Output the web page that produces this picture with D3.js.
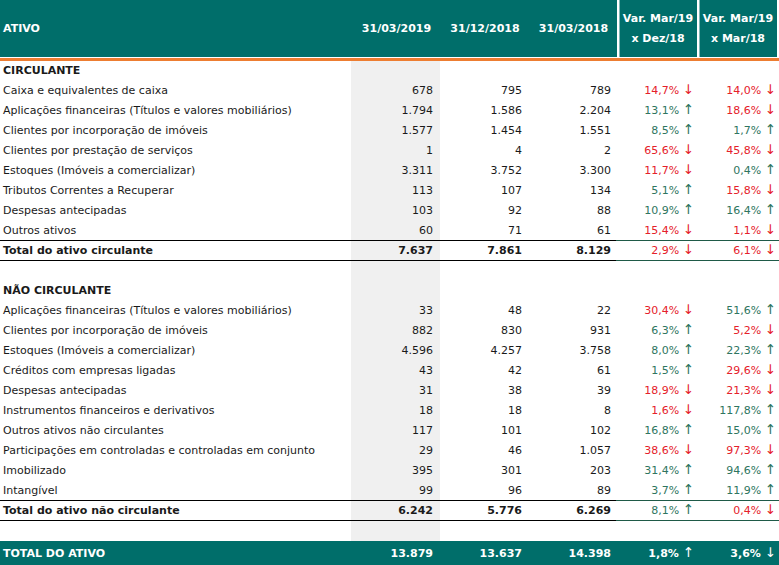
<!DOCTYPE html>
<html><head><meta charset="utf-8">
<script src="https://cdn.jsdelivr.net/npm/d3@7/dist/d3.min.js"></script>
<style>
html,body{margin:0;padding:0;background:#fff;}
svg{display:block;}
text{font-family:"DejaVu Sans",sans-serif;font-size:11px;}
</style></head>
<body>
<svg id="c" width="779" height="565"></svg>
<script>
const headers = ["ATIVO","31/03/2019","31/12/2018","31/03/2018",["Var. Mar/19","x Dez/18"],["Var. Mar/19","x Mar/18"]];
const rowLabels = ["CIRCULANTE","Caixa e equivalentes de caixa","Aplicações financeiras (Títulos e valores mobiliários)","Clientes por incorporação de imóveis","Clientes por prestação de serviços","Estoques (Imóveis a comercializar)","Tributos Correntes a Recuperar","Despesas antecipadas","Outros ativos","Total do ativo circulante","","NÃO CIRCULANTE","Aplicações financeiras (Títulos e valores mobiliários)","Clientes por incorporação de imóveis","Estoques (Imóveis a comercializar)","Créditos com empresas ligadas","Despesas antecipadas","Instrumentos financeiros e derivativos","Outros ativos não circulantes","Participações em controladas e controladas em conjunto","Imobilizado","Intangível","Total do ativo não circulante","","TOTAL DO ATIVO"];
const rowKinds = ["section","item","item","item","item","item","item","item","item","total","blank","section","item","item","item","item","item","item","item","item","item","item","total","blank","grand"];
const mar19 = [null,678,1794,1577,1,3311,113,103,60,7637,null,null,33,882,4596,43,31,18,117,29,395,99,6242,null,13879];
const dez18 = [null,795,1586,1454,4,3752,107,92,71,7861,null,null,48,830,4257,42,38,18,101,46,301,96,5776,null,13637];
const mar18 = [null,789,2204,1551,2,3300,134,88,61,8129,null,null,22,931,3758,61,39,8,102,1057,203,89,6269,null,14398];
const varDez = [null,-14.7,13.1,8.5,-65.6,-11.7,5.1,10.9,-15.4,-2.9,null,null,-30.4,6.3,8.0,1.5,-18.9,-1.6,16.8,-38.6,31.4,3.7,8.1,null,1.8];
const varMar = [null,-14.0,-18.6,1.7,-45.8,0.4,-15.8,16.4,-1.1,-6.1,null,null,51.6,-5.2,22.3,-29.6,-21.3,117.8,15.0,-97.3,94.6,11.9,-0.4,null,-3.6];

const TEAL="#006e6a", ORANGE="#ed7d31", GRAY="#f0f0f0", RED="#e5202a", GREEN="#2e7560", LINEG="#1f5a48", INK="#1a1a1a";
const loc = d3.formatLocale({decimal:",",thousands:".",grouping:[3],currency:["",""]});
const fInt = loc.format(",d"), fPct = loc.format(".1f");

const svg = d3.select("#c");
const W = 779;
const y = d3.scaleLinear().domain([0,23]).range([70,530]);
const colKeys = ["mar19","dez18","mar18","varDez","varMar"];
const colData = {mar19, dez18, mar18, varDez, varMar};
const xRight = d3.scaleOrdinal().domain(colKeys).range([433,522,611,694,776]);
const xHead = d3.scaleOrdinal().domain(colKeys).range([396.5,485,573.5,658,738]);

// header
svg.append("rect").attr("x",0).attr("y",0).attr("width",777).attr("height",57).attr("fill",TEAL);
[617,697].forEach(x=>svg.append("rect").attr("x",x).attr("y",0).attr("width",2.5).attr("height",57).attr("fill","#fff"));
svg.append("rect").attr("x",0).attr("y",58).attr("width",W).attr("height",3).attr("fill",ORANGE);
svg.append("text").attr("x",3).attr("y",28).attr("dy","0.35em").attr("fill","#fff").attr("font-weight","bold").attr("font-size","10.5px").text(headers[0]);
colKeys.forEach((k,i)=>{
  const h = headers[i+1];
  if (Array.isArray(h)) {
    h.forEach((line,j)=>svg.append("text").attr("x",xHead(k)).attr("y",18+j*20).attr("dy","0.35em").attr("text-anchor","middle").attr("fill","#fff").attr("font-weight","bold").attr("font-size","10.2px").text(line));
  } else {
    svg.append("text").attr("x",xHead(k)).attr("y",28).attr("dy","0.35em").attr("text-anchor","middle").attr("fill","#fff").attr("font-weight","bold").attr("font-size","10.5px").text(h);
  }
});

// gray column
const grandIdx = rowKinds.indexOf("grand");
const grandTop = y(grandIdx-1)+11;
svg.append("rect").attr("x",351).attr("y",61).attr("width",89).attr("height",grandTop-61).attr("fill",GRAY);

// grand band
svg.append("rect").attr("x",0).attr("y",grandTop).attr("width",W).attr("height",565-grandTop).attr("fill",TEAL);

// total lines
rowKinds.forEach((kind,i)=>{
  if (kind!=="total") return;
  [y(i)-10,y(i)+10].forEach(ly=>{
    svg.append("line").attr("x1",0).attr("x2",616).attr("y1",ly+0.5).attr("y2",ly+0.5).attr("stroke","#000").attr("stroke-width",1.2);
    svg.append("line").attr("x1",616).attr("x2",W).attr("y1",ly+0.5).attr("y2",ly+0.5).attr("stroke",LINEG).attr("stroke-width",1.2);
  });
});

// rows
rowLabels.forEach((lab,i)=>{
  const kind = rowKinds[i];
  if (kind==="blank") return;
  const cy = kind==="grand" ? (grandTop+565)/2 : y(i);
  const isBold = kind!=="item";
  const fill = kind==="grand" ? "#fff" : INK;
  svg.append("text").attr("x",3).attr("y",cy).attr("dy","0.35em").attr("fill",fill)
     .attr("font-weight",isBold?"bold":"normal").attr("font-size",isBold?"10.5px":null).text(lab);
  if (kind==="section") return;
  ["mar19","dez18","mar18"].forEach(k=>{
    svg.append("text").attr("x",xRight(k)).attr("y",cy).attr("dy","0.35em").attr("text-anchor","end")
      .attr("fill",fill).attr("font-weight",isBold?"bold":"normal").attr("font-size",isBold?"10.5px":null).text(fInt(colData[k][i]));
  });
  ["varDez","varMar"].forEach(k=>{
    const v = colData[k][i];
    const up = v>=0;
    const c = kind==="grand" ? "#fff" : (up?GREEN:RED);
    const t = svg.append("text").attr("x",xRight(k)).attr("y",cy).attr("dy","0.35em").attr("text-anchor","end")
      .attr("fill",c).attr("font-weight",kind==="grand"?"bold":"normal").attr("font-size",kind==="grand"?"10.5px":null);
    t.append("tspan").text(fPct(Math.abs(v))+"% ");
    t.append("tspan").attr("font-size","13.5px").attr("font-weight","normal").text(up?"↑":"↓");
  });
});
</script>
</body></html>
